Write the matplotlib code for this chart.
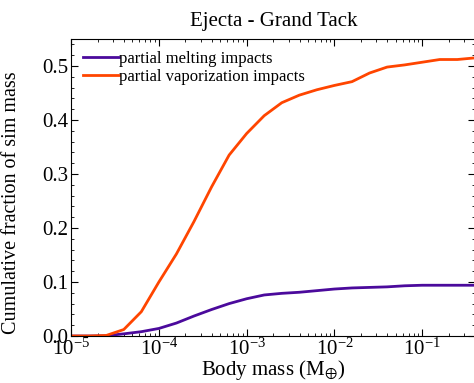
import matplotlib
matplotlib.use("Agg")
import matplotlib.pyplot as plt

plt.rcParams['font.family'] = ['Liberation Serif', 'DejaVu Serif']
plt.rcParams['mathtext.fontset'] = 'stix'

# log10 of body mass (Earth masses)
log_mass = [-5.0, -4.8, -4.6, -4.4, -4.2, -4.0, -3.8, -3.6, -3.4, -3.2, -3.0,
            -2.8, -2.6, -2.4, -2.2, -2.0, -1.8, -1.6, -1.4, -1.2, -1.0,
            -0.8, -0.6, -0.4]
melting = [0.0, 0.0, 0.0005, 0.004, 0.008, 0.014, 0.024, 0.037, 0.049, 0.060, 0.069,
           0.076, 0.079, 0.081, 0.084, 0.087, 0.089, 0.090, 0.091, 0.093, 0.094,
           0.094, 0.094, 0.094]
vaporization = [0.0, 0.0, 0.001, 0.012, 0.045, 0.100, 0.152, 0.212, 0.276, 0.335, 0.375,
                0.408, 0.432, 0.446, 0.456, 0.464, 0.471, 0.487, 0.498, 0.502, 0.507,
                0.512, 0.512, 0.515]

mass = [10 ** v for v in log_mass]

fig = plt.figure(figsize=(4.74, 3.83), dpi=100)
ax = fig.add_axes([0.150, 0.1227, 0.853, 0.7755])

ax.plot(mass, melting, color='#4b0a9c', lw=2, label='partial melting impacts')
ax.plot(mass, vaporization, color='#ff4500', lw=2, label='partial vaporization impacts')

ax.set_xscale('log')
ax.set_xlim(1e-5, 10 ** -0.394)
ax.set_ylim(0, 0.55)
ax.set_yticks([0.0, 0.1, 0.2, 0.3, 0.4, 0.5])
ax.set_yticks([i * 0.02 for i in range(28)], minor=True)
ax.tick_params(which='both', direction='in', top=True, right=True, labelsize=15)
ax.tick_params(which='major', length=5, pad=2)
ax.tick_params(which='minor', length=2.5)

ax.set_xlabel(r'Body mass (M$_{\oplus}$)', fontsize=15)
ax.xaxis.set_label_coords(0.5, -0.075)
ax.set_ylabel('Cumulative fraction of sim mass', fontsize=14.5)
ax.yaxis.set_label_coords(-0.125, 0.45)
ax.set_title('Ejecta - Grand Tack', fontsize=15, pad=9)

ax.legend(loc='upper left', frameon=False, fontsize=12, handlelength=2.2,
          handletextpad=0.0, borderaxespad=0.3, labelspacing=0.15)

fig.savefig('out.png', dpi=100)
